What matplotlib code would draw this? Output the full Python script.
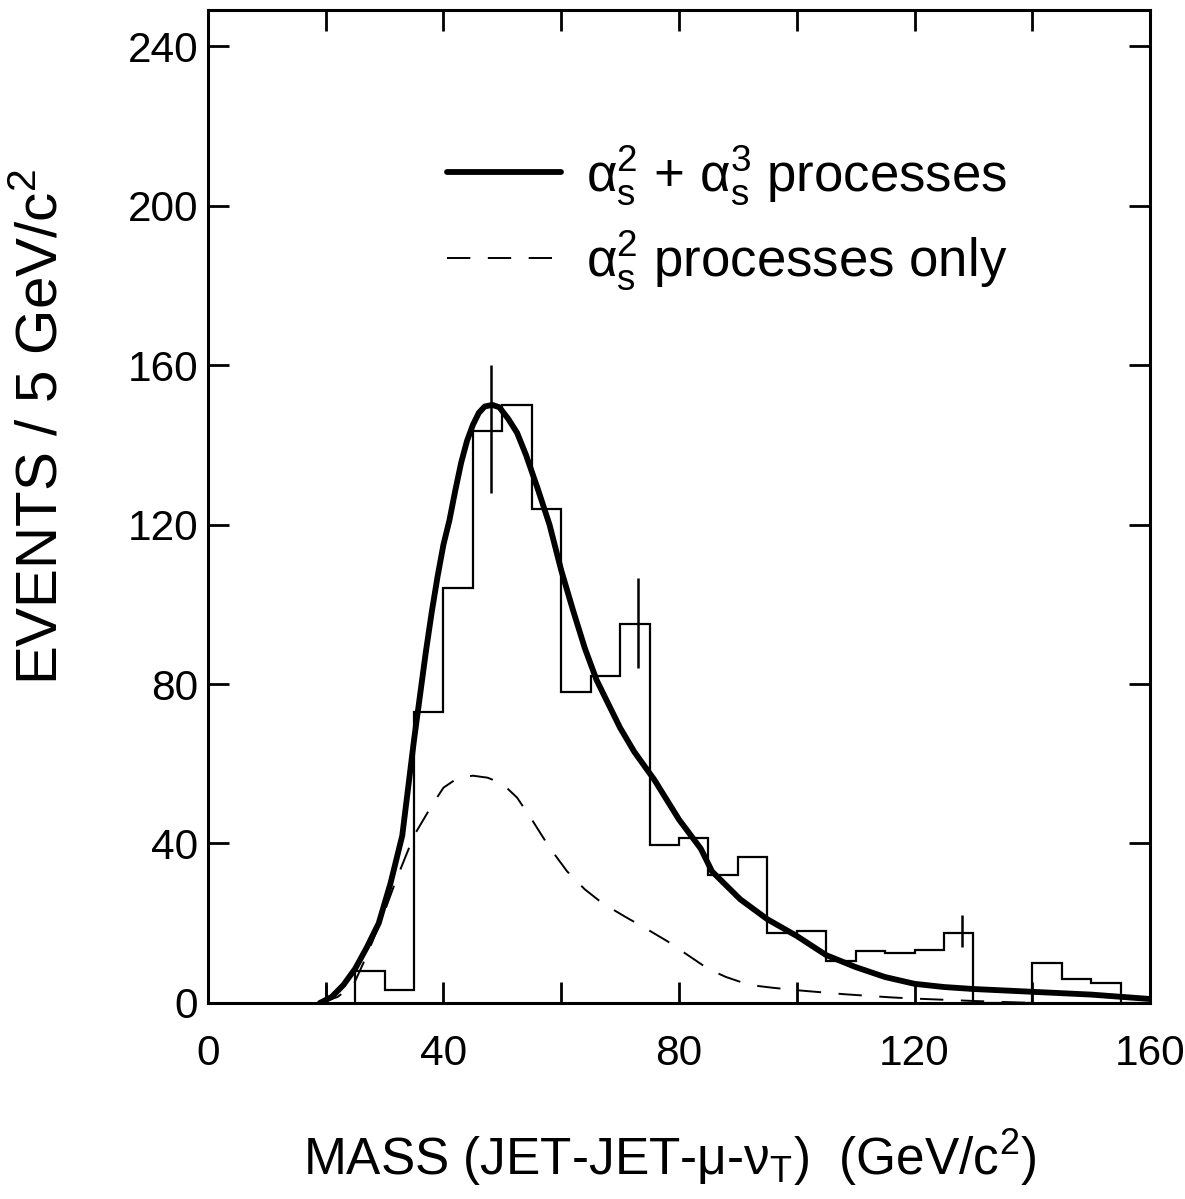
import matplotlib
matplotlib.use("Agg")
import matplotlib.pyplot as plt
from matplotlib.ticker import MultipleLocator, FuncFormatter

plt.rcParams['font.family'] = ['Liberation Sans', 'DejaVu Sans']
plt.rcParams['mathtext.default'] = 'regular'

# ---- data ----
bin_edges = [25, 30, 35, 40, 45, 50, 55, 60, 65, 70, 75, 80, 85, 90, 95, 100,
             105, 110, 115, 120, 125, 130, 135, 140, 145, 150, 155, 160]
counts = [8, 3.3, 73, 104, 143.5, 150, 124, 78, 82, 95, 39.5, 41.5, 32, 36.5,
          17.5, 18, 10.5, 13, 12.5, 13.3, 17.5, 0, 0, 10, 6, 5, 0]

err_x = [20, 48, 73, 128]
err_lo = [1.5, 128, 84, 14]
err_hi = [4.5, 160, 106.5, 22]

full_x = [19, 21, 23, 25, 27, 29, 31, 32, 33, 34, 35, 36, 37, 38, 39, 40, 41,
          42, 43, 44, 45, 46, 47, 48.3, 49.5, 51, 52.5, 54, 56, 58, 60, 62,
          64, 66, 68, 70, 72.4, 75.8, 80, 83.7, 85.6, 90.4, 95, 100, 105, 110,
          115, 120, 125, 130, 140, 150, 160]
full_y = [0, 1.5, 4.5, 8.6, 14, 20, 30, 36, 42, 54, 66, 77, 88, 98, 107, 115,
          121, 128.5, 135.5, 141, 145, 148, 149.6, 150, 149.4, 146.5, 143,
          137.5, 129, 120, 108.5, 98.5, 89, 81, 75, 69, 63, 56, 46, 38.7, 33,
          26, 21, 16.8, 12, 9, 6.5, 4.8, 4, 3.5, 2.8, 2.1, 1]

lo_x = [19, 22, 24.7, 27, 30, 32, 35, 38, 40, 42.5, 45, 47.5, 50, 52.5, 55,
        58, 61, 64, 67, 71, 74, 78, 81, 85, 88, 92, 96, 100, 104, 108, 112,
        116, 120, 125, 130, 140]
lo_y = [0, 1.5, 4.5, 12, 23, 31, 42, 49.5, 54, 56.5, 57, 56.5, 55, 51.5, 46,
        39, 33, 28.5, 25, 21.5, 19, 15.5, 12.5, 8.5, 6.5, 4.5, 3.8, 3.2, 2.7,
        2.2, 1.8, 1.4, 1.1, 0.8, 0.5, 0]

label_full = r'$\alpha_s^2$ + $\alpha_s^3$ processes'
label_lo = r'$\alpha_s^2$ processes only'
xlabel = r'MASS (JET-JET-μ-ν$_T$)  (GeV/c$^2$)'
ylabel = r'EVENTS / 5 GeV/c$^2$'

# ---- figure ----
fig = plt.figure(figsize=(11.85, 11.99), dpi=100)
ax = fig.add_axes([0.1755, 0.1635, 0.795, 0.828])

ax.stairs(counts, bin_edges, color='black', lw=1.6, baseline=0)
ax.vlines(err_x, err_lo, err_hi, color='black', lw=1.8)
ax.plot(full_x, full_y, color='black', lw=4.2, solid_capstyle='round',
        solid_joinstyle='round', label=label_full)
l2, = ax.plot(lo_x, lo_y, color='black', lw=1.4, label=label_lo)
l2.set_dashes([12, 9])

ax.set_xlim(0, 160)
ax.set_ylim(0, 249)

ax.xaxis.set_major_locator(MultipleLocator(20))
ax.xaxis.set_major_formatter(FuncFormatter(lambda v, p: f'{int(v)}' if int(round(v)) % 40 == 0 else ''))
ax.yaxis.set_major_locator(MultipleLocator(40))
ax.tick_params(axis='both', direction='in', length=15, width=2,
               top=True, right=True, labelsize=30.5)
ax.tick_params(axis='x', pad=22)
ax.tick_params(axis='y', pad=7)
for s in ax.spines.values():
    s.set_linewidth(2.2)

ax.set_xlabel(xlabel, fontsize=37)
ax.set_ylabel(ylabel, fontsize=42)
ax.xaxis.set_label_coords(0.49, -0.125)
ax.yaxis.set_label_coords(-0.147, 0.58)

ax.legend(loc='upper left', bbox_to_anchor=(0.254, 0.866), frameon=False,
          fontsize=38, handlelength=2.15, handletextpad=0.47, labelspacing=0.42,
          borderpad=0, borderaxespad=0)

fig.savefig('out.png', dpi=100)
